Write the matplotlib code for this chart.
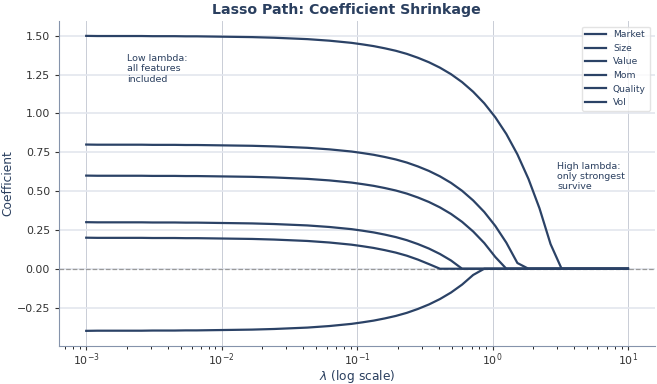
import numpy as np
import matplotlib
matplotlib.use("Agg")
import matplotlib.pyplot as plt

# regularisation grid (50 log-spaced lambdas)
lambdas = np.logspace(-3, 1, 50)

features = ["Market", "Size", "Value", "Mom", "Quality", "Vol"]

market = [1.500, 1.499, 1.499, 1.499, 1.499, 1.499, 1.498, 1.498, 1.498, 1.497,
          1.497, 1.496, 1.495, 1.494, 1.493, 1.492, 1.490, 1.488, 1.485, 1.482,
          1.479, 1.474, 1.469, 1.462, 1.455, 1.445, 1.434, 1.420, 1.404, 1.384,
          1.359, 1.330, 1.295, 1.253, 1.202, 1.140, 1.066, 0.976, 0.868, 0.737,
          0.579, 0.389, 0.159] + [0.0] * 7
size = [0.800, 0.799, 0.799, 0.799, 0.799, 0.799, 0.798, 0.798, 0.798, 0.797,
        0.797, 0.796, 0.795, 0.794, 0.793, 0.792, 0.790, 0.788, 0.785, 0.782,
        0.779, 0.774, 0.769, 0.762, 0.755, 0.745, 0.734, 0.720, 0.704, 0.684,
        0.659, 0.630, 0.595, 0.553, 0.502, 0.440, 0.366, 0.276, 0.168, 0.037] + [0.0] * 10
value = [0.600, 0.599, 0.599, 0.599, 0.599, 0.599, 0.598, 0.598, 0.598, 0.597,
         0.597, 0.596, 0.595, 0.594, 0.593, 0.592, 0.590, 0.588, 0.585, 0.582,
         0.579, 0.574, 0.569, 0.562, 0.555, 0.545, 0.534, 0.520, 0.504, 0.484,
         0.459, 0.430, 0.395, 0.353, 0.302, 0.240, 0.166, 0.076] + [0.0] * 12
mom = [0.300, 0.299, 0.299, 0.299, 0.299, 0.299, 0.298, 0.298, 0.298, 0.297,
       0.297, 0.296, 0.295, 0.294, 0.293, 0.292, 0.290, 0.288, 0.285, 0.282,
       0.279, 0.274, 0.269, 0.262, 0.255, 0.245, 0.234, 0.220, 0.204, 0.184,
       0.159, 0.130, 0.095, 0.053] + [0.0] * 16
quality = [0.200, 0.199, 0.199, 0.199, 0.199, 0.199, 0.198, 0.198, 0.198, 0.197,
           0.197, 0.196, 0.195, 0.194, 0.193, 0.192, 0.190, 0.188, 0.185, 0.182,
           0.179, 0.174, 0.169, 0.162, 0.155, 0.145, 0.134, 0.120, 0.104, 0.084,
           0.059, 0.030] + [0.0] * 18
vol = [-0.400, -0.399, -0.399, -0.399, -0.399, -0.399, -0.398, -0.398, -0.398, -0.397,
       -0.397, -0.396, -0.395, -0.394, -0.393, -0.392, -0.390, -0.388, -0.385, -0.382,
       -0.379, -0.374, -0.369, -0.362, -0.355, -0.345, -0.334, -0.320, -0.304, -0.284,
       -0.259, -0.230, -0.195, -0.153, -0.102, -0.040] + [0.0] * 14

paths = [market, size, value, mom, quality, vol]

navy = "#2a3f5f"
line_col = "#2b4266"

fig, ax = plt.subplots(figsize=(6.57, 3.84), dpi=100)

ax.grid(True, axis="y", color="#e3e6ee", linewidth=1.2)
ax.grid(True, axis="x", which="major", color="#c9cdd6", linewidth=0.7)
ax.set_axisbelow(True)

ax.axhline(0, color="#999999", linestyle="--", linewidth=0.9, zorder=1)

for name, coefs in zip(features, paths):
    ax.plot(lambdas, coefs, color=line_col, linewidth=1.6, label=name, zorder=3)

ax.set_xscale("log")

ax.set_title("Lasso Path: Coefficient Shrinkage", fontsize=10.2, fontweight="bold",
             color=navy, pad=5, x=0.482)
ax.set_xlabel(r"$\lambda$ (log scale)", fontsize=8.8, color=navy, labelpad=0)
ax.set_ylabel("Coefficient", fontsize=8.8, color=navy, labelpad=2)

ax.tick_params(labelsize=7.9, colors="#333333", length=3)
ax.tick_params(axis="x", pad=1.5)
ax.tick_params(which="minor", length=2)
for side in ["top", "right"]:
    ax.spines[side].set_visible(False)
for side in ["left", "bottom"]:
    ax.spines[side].set_color("#8593ab")

ax.text(0.002, 1.385, "Low lambda:\nall features\nincluded", fontsize=6.8,
        color=navy, va="top", ha="left")
ax.text(3.0, 0.69, "High lambda:\nonly strongest\nsurvive", fontsize=6.8,
        color=navy, va="top", ha="left")

leg = ax.legend(loc="upper right", fontsize=6.6, frameon=True, labelspacing=0.5,
                handlelength=2.2, borderaxespad=0.6)
leg.get_frame().set_edgecolor("#dddddd")
for t in leg.get_texts():
    t.set_color(navy)

fig.subplots_adjust(left=0.09, right=0.997, top=0.945, bottom=0.1)
fig.savefig("out.png", dpi=100)
